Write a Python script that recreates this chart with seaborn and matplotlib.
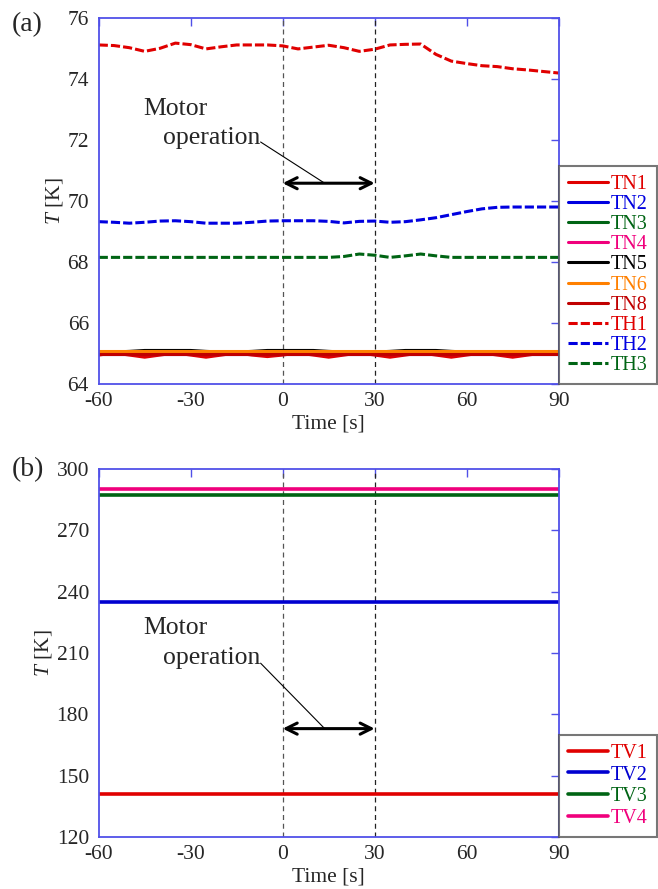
import numpy as np
import pandas as pd
import matplotlib
matplotlib.use("Agg")
import matplotlib.pyplot as plt
import seaborn as sns

# time axis [s]
time = [-60, -55, -50, -45, -40, -35, -30, -25, -20, -15, -10, -5, 0, 5, 10,
        15, 20, 25, 30, 35, 40, 45, 50, 55, 60, 65, 70, 75, 80, 85, 90]

# panel (a) - nitrogen / helium side temperatures [K]
TN1 = [64.95, 65.02, 64.95, 64.88, 64.95, 65.02, 64.95, 64.88, 64.95, 65.02, 64.95,
       64.90, 64.95, 65.02, 64.95, 64.88, 64.95, 65.02, 64.95, 64.88, 64.95, 65.02,
       64.95, 64.88, 64.95, 65.02, 64.95, 64.88, 64.95, 65.02, 64.97]
TN2 = [65.00] * 31
TN3 = [64.98, 64.99, 64.98, 64.98, 64.98, 64.98, 64.98, 64.98, 64.99, 64.98, 64.98,
       64.98, 64.98, 64.98, 64.98, 64.98, 64.99, 65.00, 64.98, 64.98, 64.98, 64.98,
       64.98, 64.98, 64.98, 65.00, 64.98, 64.98, 64.98, 64.98, 64.98]
TN4 = [65.00] * 31
TN5 = [65.05, 65.05, 65.07, 65.10, 65.10, 65.10, 65.10, 65.07, 65.05, 65.05, 65.07,
       65.10, 65.10, 65.10, 65.10, 65.07, 65.05, 65.05, 65.05, 65.07, 65.10, 65.10,
       65.10, 65.07, 65.05, 65.05, 65.05, 65.05, 65.05, 65.05, 65.05]
TN6 = [65.07] * 31
TN8 = [65.00] * 31
TH1 = [75.11, 75.09, 75.02, 74.90, 75.00, 75.17, 75.12, 74.98, 75.05, 75.11, 75.11,
       75.11, 75.08, 74.98, 75.04, 75.10, 75.02, 74.90, 74.97, 75.11, 75.13, 75.14,
       74.80, 74.58, 74.50, 74.43, 74.40, 74.33, 74.29, 74.24, 74.19]
TH2 = [69.32, 69.30, 69.27, 69.30, 69.34, 69.35, 69.32, 69.27, 69.27, 69.27, 69.30,
       69.34, 69.35, 69.35, 69.35, 69.33, 69.28, 69.33, 69.34, 69.30, 69.32, 69.38,
       69.45, 69.55, 69.65, 69.74, 69.79, 69.80, 69.80, 69.80, 69.80]
TH3 = [68.15, 68.15, 68.15, 68.15, 68.15, 68.15, 68.15, 68.15, 68.15, 68.15, 68.15,
       68.15, 68.15, 68.15, 68.15, 68.15, 68.18, 68.26, 68.22, 68.15, 68.20, 68.26,
       68.20, 68.15, 68.15, 68.15, 68.15, 68.15, 68.15, 68.15, 68.15]

# panel (b) - vacuum vessel temperatures [K]
TV1 = [141.0] * 31
TV2 = [235.0] * 31
TV3 = [287.2] * 31
TV4 = [290.2] * 31

names_a = ["TN1", "TN2", "TN3", "TN4", "TN5", "TN6", "TN8", "TH1", "TH2", "TH3"]
series_a = [TN1, TN2, TN3, TN4, TN5, TN6, TN8, TH1, TH2, TH3]
colors_a = ["#e00000", "#0000e0", "#006414", "#f0007c", "#000000", "#ff8000",
            "#c00000", "#e00000", "#0000e0", "#006414"]
names_b = ["TV1", "TV2", "TV3", "TV4"]
series_b = [TV1, TV2, TV3, TV4]
colors_b = ["#e00000", "#0000d0", "#006414", "#f0007c"]

sns.set_style("white")
plt.rcParams['font.family'] = ['Liberation Serif', 'DejaVu Serif']
plt.rcParams['mathtext.fontset'] = 'custom'
plt.rcParams['mathtext.rm'] = 'Liberation Serif'
plt.rcParams['mathtext.it'] = 'Liberation Serif:italic'
plt.rcParams['axes.unicode_minus'] = False

fig = plt.figure(figsize=(6.58, 8.89), dpi=100)
ax_a = fig.add_axes([0.150, 0.568, 0.699, 0.412])
ax_b = fig.add_axes([0.150, 0.0585, 0.699, 0.414])

spine_col = "#5050e8"
fs = 15.5


def style_axes(ax, ylim, yticks):
    ax.set_xlim(-60, 90)
    ax.set_ylim(*ylim)
    ax.set_xticks([-60, -30, 0, 30, 60, 90])
    ax.set_yticks(yticks)
    ax.tick_params(direction="in", length=6, width=1, color=spine_col,
                   top=True, right=True, labelsize=fs)
    ax.tick_params(axis="x", pad=6)
    ax.tick_params(axis="y", pad=7)
    for s in ax.spines.values():
        s.set_color(spine_col)
        s.set_linewidth(1.3)
    ax.set_xlabel("Time [s]", fontsize=fs, labelpad=2)
    ax.set_ylabel("$T$ [K]", fontsize=fs, labelpad=2)
    ax.axvline(0, color="#555555", lw=0.9, ls=(0, (4, 3)), zorder=1)
    ax.axvline(30, color="#222222", lw=0.9, ls=(0, (4, 3)), zorder=1)


# (a)
for name, vals, col in zip(names_a, series_a, colors_a):
    df = pd.DataFrame({"time": time, "T": vals})
    dashed = name.startswith("TH")
    sns.lineplot(data=df, x="time", y="T", ax=ax_a, color=col, lw=2.2,
                 label=name, linestyle=(0, (3, 1)) if dashed else "-")
style_axes(ax_a, (64, 76), [64, 66, 68, 70, 72, 74, 76])

# (b)
for name, vals, col in zip(names_b, series_b, colors_b):
    df = pd.DataFrame({"time": time, "T": vals})
    sns.lineplot(data=df, x="time", y="T", ax=ax_b, color=col, lw=2.6, label=name)
style_axes(ax_b, (120, 300), [120, 150, 180, 210, 240, 270, 300])


def motor_note(ax, y_arrow, y_motor, y_oper, y_line):
    ax.annotate("", xy=(30, y_arrow), xytext=(0, y_arrow),
                arrowprops=dict(arrowstyle="<->", lw=2.2, color="black",
                                mutation_scale=20, shrinkA=0, shrinkB=0))
    ax.text(-35, y_motor, "Motor", fontsize=18.5, ha="center", va="center")
    ax.text(-23.3, y_oper, "operation", fontsize=18.5, ha="center", va="center")
    ax.plot([-7.2, 13.7], [y_line, y_arrow], color="black", lw=0.8)


motor_note(ax_a, 70.58, 73.0, 72.05, 71.93)
motor_note(ax_b, 173, 222.0, 207.5, 205.0)


def legend(ax, cols, spacing):
    leg = ax.legend(loc="lower left", bbox_to_anchor=(1.0, 0.0), fontsize=14.5,
                    frameon=True, fancybox=False, handlelength=2.0,
                    handletextpad=0.15, labelspacing=spacing, borderaxespad=0,
                    borderpad=0.45)
    leg.get_frame().set_edgecolor("#555555")
    leg.get_frame().set_linewidth(1.5)
    for t, c in zip(leg.get_texts(), cols):
        t.set_color(c)
    return leg


legend(ax_a, colors_a, 0.05)
legend(ax_b, colors_b, 0.13)

fig.text(0.018, 0.972, "(a)", fontsize=20, va="center")
fig.text(0.018, 0.472, "(b)", fontsize=20, va="center")

fig.savefig("out.png", dpi=100)
